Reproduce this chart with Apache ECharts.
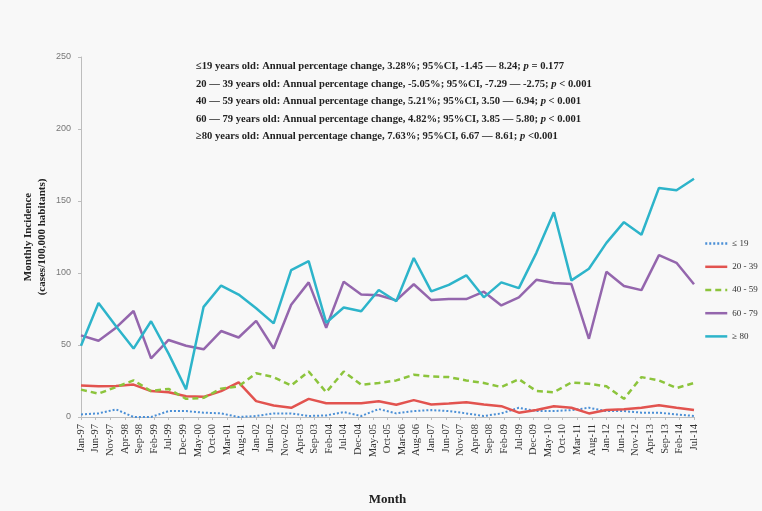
<!DOCTYPE html>
<html>
<head>
<meta charset="utf-8">
<script src="https://cdn.jsdelivr.net/npm/echarts@6/dist/echarts.min.js"></script>
<style>
  html, body { margin: 0; padding: 0; background: #f8f8f8; }
  #chart { width: 762px; height: 511px; }
</style>
</head>
<body>
<div id="chart"></div>
<script>
// Month axis: Jan-97 .. Jul-14, one category per month
const MONTH_NAMES = ['Jan','Feb','Mar','Apr','May','Jun','Jul','Aug','Sep','Oct','Nov','Dec'];
const START_YEAR = 1997, END_YEAR = 2014, END_MONTH = 6; // Jul-14
const months = [];
for (let y = START_YEAR; y <= END_YEAR; y++) {
  for (let m = 0; m < 12; m++) {
    if (y === END_YEAR && m > END_MONTH) break;
    months.push(MONTH_NAMES[m] + '-' + String(y % 100).padStart(2, '0'));
  }
}
// Observations every six months (Jan / Jul)
const STEP = 6;

const ageGroups = ['≤ 19', '20 - 39', '40 - 59', '60 - 79', '≥ 80'];

const age0_19 = [1.8, 2.5, 5.3, 0.0, 0.0, 4.1, 4.1, 3.0, 2.5, 0.0, 0.7, 2.5,
                 2.5, 0.7, 1.1, 3.4, 0.7, 5.5, 2.5, 4.1, 4.8, 4.1, 2.5, 0.7,
                 2.5, 6.4, 4.1, 4.1, 4.8, 6.4, 4.1, 4.1, 3.0, 3.0, 1.8, 0.7];
const age20_39 = [21.8, 21.3, 21.5, 22.5, 18.0, 17.2, 14.4, 14.0, 18.0, 24.0, 11.0, 8.0,
                  6.4, 12.6, 9.5, 9.5, 9.5, 11.0, 8.5, 11.7, 8.7, 9.4, 10.3, 8.7,
                  7.5, 3.0, 4.8, 7.5, 6.4, 2.5, 4.8, 5.3, 6.4, 8.2, 6.4, 4.8];
const age40_59 = [19.0, 16.2, 20.8, 25.4, 18.0, 19.5, 12.6, 13.3, 19.7, 21.3, 30.4, 27.7,
                  21.8, 31.6, 17.2, 31.6, 22.4, 23.6, 25.4, 29.3, 28.1, 27.7, 25.4, 23.6,
                  20.8, 26.3, 18.0, 17.2, 24.0, 23.1, 21.3, 12.6, 27.7, 25.4, 20.1, 23.6];
const age60_79 = [56.7, 53.0, 62.0, 73.6, 40.7, 53.5, 49.5, 47.0, 59.7, 55.2, 66.7, 47.6,
                  78.0, 93.5, 62.0, 94.0, 85.0, 84.5, 81.0, 92.2, 81.2, 81.9, 81.9, 87.0,
                  77.5, 83.0, 95.3, 93.0, 92.3, 54.3, 100.9, 91.0, 88.1, 112.4, 107.1, 92.2];
const age80plus = [49.5, 79.2, 63.0, 47.5, 66.5, 44.0, 19.2, 76.5, 91.3, 85.0, 75.5, 65.0,
                   102.0, 108.2, 65.5, 76.0, 73.4, 88.2, 80.4, 110.4, 87.2, 91.8, 98.4, 83.1,
                   93.5, 89.5, 114.0, 142.2, 94.9, 102.9, 120.9, 135.3, 126.6, 159.1, 157.5, 165.5];

const annotationLines = [
  ['≤19 years old: Annual percentage change, 3.28%; 95%CI, -1.45 — 8.24; ', ' = 0.177'],
  ['20 — 39 years old: Annual percentage change, -5.05%; 95%CI, -7.29 — -2.75; ', ' < 0.001'],
  ['40 — 59 years old: Annual percentage change, 5.21%; 95%CI, 3.50 — 6.94; ', ' < 0.001'],
  ['60 — 79 years old: Annual percentage change, 4.82%; 95%CI, 3.85 — 5.80; ', ' < 0.001'],
  ['≥80 years old: Annual percentage change, 7.63%; 95%CI, 6.67 — 8.61; ', ' <0.001']
];

const toPairs = vals => vals.map((v, i) => [i * STEP, v]);

const seriesDefs = [
  { name: ageGroups[0], values: age0_19,  color: '#4a8fd6', width: 2,   type: [2, 2] },
  { name: ageGroups[1], values: age20_39, color: '#e2534f', width: 2.5, type: 'solid' },
  { name: ageGroups[2], values: age40_59, color: '#8cc43c', width: 2.5, type: [6, 4] },
  { name: ageGroups[3], values: age60_79, color: '#9466ad', width: 2.5, type: 'solid' },
  { name: ageGroups[4], values: age80plus, color: '#2db4ca', width: 2.5, type: 'solid' }
];

const serif = '"Liberation Serif", "DejaVu Serif", serif';

const chart = echarts.init(document.getElementById('chart'), null, { renderer: 'canvas' });
chart.setOption({
  backgroundColor: '#f8f8f8',
  animation: false,
  grid: { left: 81, right: 68, top: 57, bottom: 90, containLabel: false },
  legend: {
    orient: 'vertical',
    left: 699,
    top: 233,
    itemWidth: 22,
    itemHeight: 14,
    itemGap: 12,
    itemStyle: { opacity: 0 },
    lineStyle: { width: 2.5 },
    textStyle: { fontFamily: serif, fontSize: 9, color: '#333' },
    data: ageGroups
  },
  xAxis: {
    type: 'category',
    data: months,
    boundaryGap: false,
    name: 'Month',
    nameLocation: 'middle',
    nameGap: 76,
    nameMoveOverlap: false,
    nameTextStyle: { fontFamily: serif, fontWeight: 'bold', fontSize: 13, color: '#222' },
    axisLine: { lineStyle: { color: '#bdbdbd', width: 1 } },
    axisTick: { interval: 4, length: 3, lineStyle: { color: '#bdbdbd' } },
    axisLabel: { interval: 4, rotate: 90, fontFamily: serif, fontSize: 10.5, color: '#333', margin: 7 },
    splitLine: { show: false }
  },
  yAxis: {
    type: 'value',
    min: 0, max: 250, interval: 50,
    name: 'Monthly Incidence\n(cases/100,000 habitants)',
    nameLocation: 'middle',
    nameGap: 32,
    nameMoveOverlap: false,
    nameRotate: 90,
    nameTextStyle: { fontFamily: serif, fontWeight: 'bold', fontSize: 11, lineHeight: 14, color: '#222' },
    axisLine: { show: true, lineStyle: { color: '#bdbdbd', width: 1 } },
    axisTick: { show: true, length: 3, lineStyle: { color: '#bdbdbd' } },
    axisLabel: { fontFamily: '"Liberation Sans", Arial, sans-serif', fontSize: 9, color: '#777', margin: 10 },
    splitLine: { show: false }
  },
  graphic: annotationLines.map((ln, k) => ({
    type: 'text',
    left: 196,
    top: 61 + k * 17.5,
    style: {
      text: '{a|' + ln[0] + '}{i|p}{a|' + ln[1] + '}',
      rich: {
        a: { fontFamily: serif, fontWeight: 'bold', fontSize: 10.6, fill: '#222' },
        i: { fontFamily: serif, fontWeight: 'bold', fontStyle: 'italic', fontSize: 10.6, fill: '#222' }
      }
    }
  })),
  series: seriesDefs.map(d => ({
    name: d.name,
    type: 'line',
    data: toPairs(d.values),
    symbol: 'none',
    lineStyle: { color: d.color, width: d.width, type: d.type },
    itemStyle: { color: d.color },
    z: 2
  }))
});
</script>
</body>
</html>
